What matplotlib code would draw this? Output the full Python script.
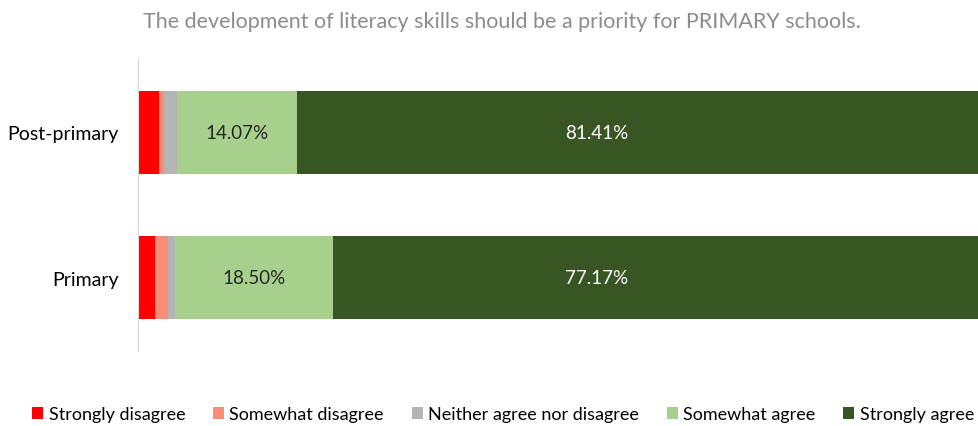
import matplotlib
matplotlib.use('Agg')
import matplotlib.pyplot as plt

groups = ["Primary", "Post-primary"]
responses = ["Strongly disagree", "Somewhat disagree", "Neither agree nor disagree",
             "Somewhat agree", "Strongly agree"]
colors = ["#ff0000", "#fa8c78", "#b4b4b4", "#a8d08d", "#375623"]

# percent of respondents per response, one list per response (Primary, Post-primary)
strongly_disagree = [1.96, 2.51]
somewhat_disagree = [1.52, 0.50]
neither = [0.85, 1.51]
somewhat_agree = [18.50, 14.07]
strongly_agree = [77.17, 81.41]

series = [strongly_disagree, somewhat_disagree, neither, somewhat_agree, strongly_agree]

plt.rcParams['font.family'] = ['Lato', 'DejaVu Sans']

fig = plt.figure(figsize=(9.79, 4.27), dpi=100)
ax = fig.add_axes([0.141, 0.176, 0.871, 0.683])

left = [0.0, 0.0]
for name, vals, col in zip(responses, series, colors):
    bars = ax.barh(groups, vals, left=left, height=0.57, color=col, label=name)
    if name == "Somewhat agree":
        for b, v in zip(bars, vals):
            ax.text(b.get_x() + b.get_width() / 2, b.get_y() + b.get_height() / 2,
                    "%.2f%%" % v, ha='center', va='center', color="#262626", fontsize=13.5)
    elif name == "Strongly agree":
        # labels sit in the visible part of the long bars
        for b, v in zip(bars, vals):
            ax.text(53.8, b.get_y() + b.get_height() / 2,
                    "%.2f%%" % v, ha='center', va='center', color="white", fontsize=13.5)
    left = [l + v for l, v in zip(left, vals)]

ax.set_xlim(0, 100)
ax.set_ylim(-0.5, 1.5)
ax.set_xticks([])
ax.tick_params(axis='y', length=0, labelsize=14, pad=14)
for s in ["top", "right", "bottom"]:
    ax.spines[s].set_visible(False)
ax.spines["left"].set_color("#d9d9d9")

fig.text(0.513, 0.948, "The development of literacy skills should be a priority for PRIMARY schools.",
         ha='center', va='center', fontsize=15.5, color="#8c8c8c")

fig.legend(loc='center', bbox_to_anchor=(0.514, 0.027), ncol=5, frameon=False,
           fontsize=13, handlelength=0.6, handleheight=0.6, handletextpad=0.3,
           columnspacing=1.55)

fig.savefig("out.png", dpi=100)
